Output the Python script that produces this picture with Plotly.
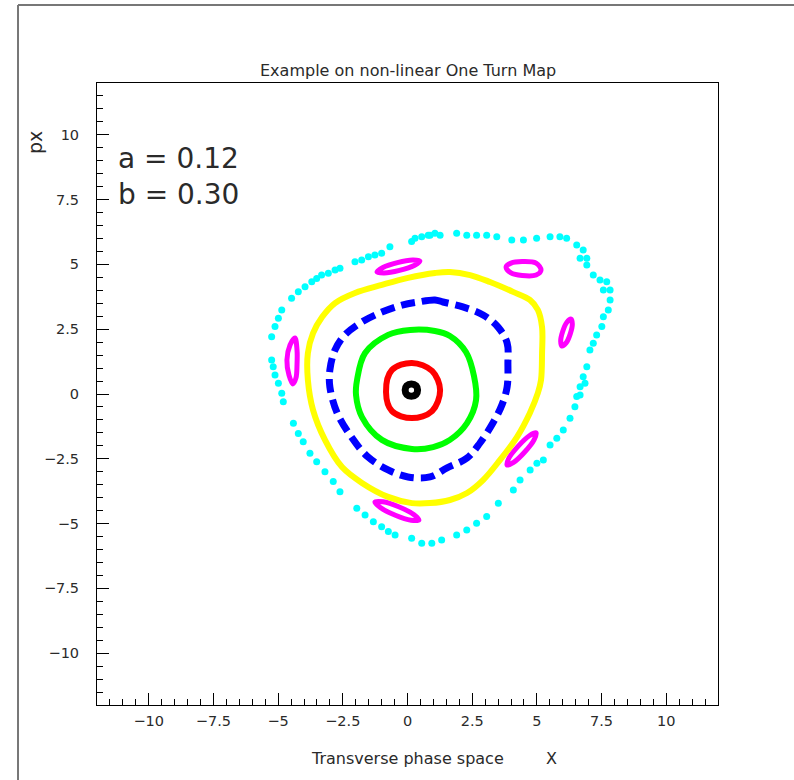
import plotly.graph_objects as go

# ---- orbit data (phase space X, px) ----
black_x = [0.15, 0.33, 0.39, 0.33, 0.15, -0.03, -0.09, -0.03, 0.15]
black_y = [0.39, 0.32, 0.15, -0.02, -0.09, -0.02, 0.15, 0.32, 0.39]

red_x = [0.17, 0.95, 1.26, 0.95, 0.17, -0.60, -0.83, -0.60, 0.17]
red_y = [1.20, 0.89, 0.15, -0.66, -0.93, -0.66, 0.08, 0.93, 1.20]

green_x = [0.10, 1.06, 1.64, 2.26, 2.57, 2.65, 2.30, 1.64, 0.99, 0.17, -0.99, -1.76, -1.99, -1.95, -1.64, -0.75, 0.10]
green_y = [2.47, 2.43, 2.24, 1.62, 0.69, -0.23, -1.12, -1.77, -2.05, -2.12, -1.77, -0.89, -0.04, 0.54, 1.58, 2.28, 2.47]

blue_x = [0.41, 1.06, 1.37, 2.14, 2.92, 3.50, 3.85, 3.88, 3.85, 3.65, 3.30, 2.80, 2.30, 1.53, 0.87, 0.02,
          -0.75, -1.53, -2.14, -2.72, -3.00, -3.00, -2.80, -2.42, -1.76, -0.99, -0.21, 0.41]
blue_y = [3.55, 3.63, 3.55, 3.36, 3.05, 2.58, 1.97, 1.20, 0.27, -0.42, -1.12, -1.89, -2.47, -2.85, -3.20, -3.20,
          -2.93, -2.43, -1.70, -0.73, 0.27, 0.93, 1.70, 2.28, 2.78, 3.16, 3.43, 3.55]

yellow_x = [0.02, 1.06, 1.64, 2.42, 3.19, 4.08, 4.73, 5.04, 5.20, 5.20, 5.16, 5.04, 4.73, 4.23, 3.57, 2.92,
            2.30, 1.64, 0.87, 0.17, -0.75, -1.76, -2.53, -3.19, -3.65, -3.85, -3.85, -3.65, -3.30, -2.80,
            -2.03, -0.99, 0.02]
yellow_y = [4.48, 4.67, 4.71, 4.59, 4.32, 3.94, 3.63, 3.24, 2.58, 1.58, 0.54, 0.04, -0.73, -1.66, -2.55, -3.32,
            -3.82, -4.09, -4.21, -4.21, -3.97, -3.43, -2.82, -1.77, -0.62, 0.54, 1.58, 2.35, 2.97, 3.51,
            3.90, 4.21, 4.48]

# six magenta islands
island1_x = [0.48, 0.26, -0.31, -0.90, -1.18, -0.95, -0.39, 0.20, 0.48]
island1_y = [5.13, 4.96, 4.77, 4.67, 4.71, 4.88, 5.07, 5.17, 5.13]
island2_x = [5.16, 4.97, 4.43, 4.00, 3.81, 4.00, 4.43, 4.97, 5.16]
island2_y = [4.78, 4.59, 4.57, 4.67, 4.90, 5.05, 5.11, 5.05, 4.78]
island3_x = [6.32, 6.37, 6.29, 6.13, 5.97, 5.92, 6.00, 6.16, 6.32]
island3_y = [2.89, 2.70, 2.32, 1.97, 1.85, 2.04, 2.42, 2.77, 2.89]
island4_x = [4.97, 4.89, 4.53, 4.10, 3.85, 3.92, 4.28, 4.71, 4.97]
island4_y = [-1.50, -1.77, -2.24, -2.64, -2.74, -2.47, -2.01, -1.61, -1.50]
island5_x = [0.44, 0.14, -0.47, -1.05, -1.26, -0.95, -0.34, 0.24, 0.44]
island5_y = [-4.86, -4.87, -4.68, -4.38, -4.17, -4.16, -4.35, -4.65, -4.86]
island6_x = [-4.35, -4.27, -4.27, -4.31, -4.43, -4.58, -4.66, -4.54, -4.35]
island6_y = [2.16, 1.70, 1.12, 0.62, 0.39, 0.73, 1.31, 1.89, 2.16]

# chaotic (cyan) orbit points
cyan_x = [0.16, 0.29, 0.55, 0.80, 1.06, -2.03, -1.77, -1.51, -1.26, -1.00, -0.68, -3.32, -3.06, -2.80, -2.61,
          -4.48, -4.22, -3.96, -3.70, -3.51, -4.86, -4.99, -5.12, -5.25, -5.25, -5.19, -5.12, -4.99, -4.86,
          -4.80, -4.41, -4.22, -4.03, -3.77, -3.51, -3.19, -2.87, -2.61, -1.96, -1.64, -1.32, -1.00, -0.74,
          -0.48, 0.16, 0.55, 0.94, 1.32, 1.90, 2.29, 2.67, 3.06, 3.51, 4.09, 4.35, 4.74, 5.00, 5.25, 5.51,
          5.77, 6.02, 6.28, 6.47, 6.67, 6.86, 0.87, 1.26, 1.90, 2.29, 2.67, 3.06, 3.45, 4.03, 4.48, 4.99,
          5.51, 5.89, 6.15, 6.54, 6.79, 6.93, 6.67, 6.93, 7.18, 7.44, 7.70, 7.83, 7.57, 7.83, 7.76, 7.57,
          7.51, 7.31, 7.18, 7.05, 6.93, 6.79, 6.67, 6.54]
cyan_y = [5.88, 6.01, 6.07, 6.13, 6.20, 5.10, 5.17, 5.30, 5.36, 5.43, 5.68, 4.59, 4.66, 4.78, 4.85,
          3.69, 3.95, 4.14, 4.33, 4.46, 3.24, 2.92, 2.60, 2.21, 1.31, 1.05, 0.73, 0.41, 0.03,
          -0.30, -1.13, -1.52, -1.84, -2.29, -2.61, -3.00, -3.38, -3.77, -4.41, -4.67, -4.93, -5.12, -5.31,
          -5.44, -5.57, -5.76, -5.76, -5.63, -5.44, -5.25, -4.99, -4.73, -4.22, -3.70, -3.32, -2.93, -2.67, -2.55, -1.97,
          -1.71, -1.39, -0.94, -0.49, -0.04, 0.41, 6.13, 6.13, 6.20, 6.13, 6.13, 6.13, 6.07, 5.94, 5.94, 6.01,
          6.07, 6.07, 6.01, 5.75, 5.56, 5.24, 5.24, 4.98, 4.59, 4.40, 4.33, 4.01, 4.01, 3.63, 3.24, 2.98,
          2.60, 2.28, 1.96, 1.70, 1.05, 0.67, 0.28, -0.10]

tick_vals = [-10, -7.5, -5, -2.5, 0, 2.5, 5, 7.5, 10]
tick_text = ["\u221210", "\u22127.5", "\u22125", "\u22122.5", "0", "2.5", "5", "7.5", "10"]

FONT = "DejaVu Sans"
TXT = "#2a2a2a"
fig = go.Figure()

fig.add_trace(go.Scatter(x=cyan_x, y=cyan_y, mode="markers",
                         marker=dict(color="#00FFFF", size=7, line=dict(width=0))))

def curve(xs, ys, color, width, dash="solid"):
    fig.add_trace(go.Scatter(x=xs, y=ys, mode="lines",
                             line=dict(color=color, width=width, shape="spline", smoothing=1.0, dash=dash)))

for ix, iy in [(island1_x, island1_y), (island2_x, island2_y), (island3_x, island3_y),
               (island4_x, island4_y), (island5_x, island5_y), (island6_x, island6_y)]:
    curve(ix, iy, "#FF00FF", 5)

curve(yellow_x, yellow_y, "#FFFF00", 6)
curve(blue_x, blue_y, "#0000FF", 7, dash="14px,7px")
curve(green_x, green_y, "#00FF00", 6)
curve(red_x, red_y, "#FF0000", 6)
curve(black_x, black_y, "#000000", 7)

axis_common = dict(range=[-12, 12], showgrid=False, zeroline=False,
                   showline=True, linecolor="black", linewidth=1, mirror=True,
                   ticks="inside", ticklen=12, tickwidth=1, tickcolor="black",
                   tickvals=tick_vals, ticktext=tick_text,
                   tickfont=dict(family=FONT, size=14.5, color=TXT),
                   minor=dict(dtick=0.5, tick0=0, ticks="inside", ticklen=6, tickcolor="black", tickwidth=1))

fig.update_layout(
    width=794, height=780,
    margin=dict(l=97, r=76, t=83, b=75),
    paper_bgcolor="white", plot_bgcolor="white",
    showlegend=False,
    xaxis=dict(**axis_common, ticklabelstandoff=3),
    yaxis=dict(**axis_common, ticklabelstandoff=14),
    shapes=[
        dict(type="line", xref="paper", yref="paper", x0=-0.1272, x1=-0.1272, y0=1.1254, y1=-0.125,
             line=dict(color="#777", width=2)),
        dict(type="line", xref="paper", yref="paper", x0=-0.1272, x1=1.13, y0=1.1254, y1=1.1254,
             line=dict(color="#777", width=2)),
    ],
    annotations=[
        dict(text="Example on non-linear One Turn Map", xref="paper", yref="paper",
             x=0.5, y=1.0193, xanchor="center", yanchor="middle", showarrow=False,
             font=dict(family=FONT, size=16, color=TXT)),
        dict(text="a = 0.12", xref="paper", yref="paper", x=0.0306, y=0.879,
             xanchor="left", yanchor="middle", showarrow=False,
             font=dict(family=FONT, size=28, color=TXT)),
        dict(text="b = 0.30", xref="paper", yref="paper", x=0.0306, y=0.8215,
             xanchor="left", yanchor="middle", showarrow=False,
             font=dict(family=FONT, size=28, color=TXT)),
        dict(text="px", xref="paper", yref="paper", x=-0.0998, y=0.9035, textangle=-90,
             xanchor="center", yanchor="middle", showarrow=False,
             font=dict(family=FONT, size=19, color=TXT)),
        dict(text="Transverse phase space", xref="paper", yref="paper", x=0.4997, y=-0.0868,
             xanchor="center", yanchor="middle", showarrow=False,
             font=dict(family=FONT, size=16, color=TXT)),
        dict(text="X", xref="paper", yref="paper", x=0.7311, y=-0.0868,
             xanchor="center", yanchor="middle", showarrow=False,
             font=dict(family=FONT, size=16, color=TXT)),
    ],
)

fig.write_html("out.html", config={"displayModeBar": False},
               post_script="document.body.style.margin='0';document.body.style.overflow='hidden';")
